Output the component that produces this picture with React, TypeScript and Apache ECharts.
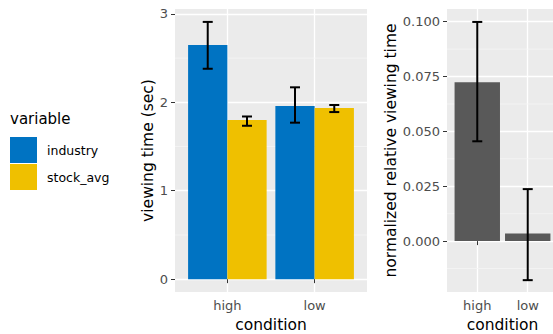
import { useEffect, useRef } from 'react';
import * as echarts from 'echarts';

const conditions = ['high', 'low'];
const seriesNames = ['industry', 'stock_avg'];
const industryMean = [2.65, 1.96];
const industryLower = [2.38, 1.77];
const industryUpper = [2.91, 2.17];
const stockMean = [1.8, 1.935];
const stockLower = [1.735, 1.89];
const stockUpper = [1.84, 1.97];
const normMean = [0.0724, 0.0035];
const normLower = [0.0455, -0.0178];
const normUpper = [0.0999, 0.0237];
const leftTicks = [0, 1, 2, 3];
const leftMinor = [0.5, 1.5, 2.5];
const rightTicks = [0, 0.025, 0.05, 0.075, 0.1];
const rightMinor = [-0.0125, 0.0125, 0.0375, 0.0625, 0.0875];
const xTicks = [1, 2];

const FONT = 'DejaVu Sans';
const BLUE = '#0073C2';
const YELLOW = '#EFC000';
const GREY = '#595959';

function barRender(halfWidth: number, color: string) {
  return (params: any, api: any) => {
    const x = api.value(0);
    const v = api.value(1);
    const p0 = api.coord([x - halfWidth, v]);
    const p1 = api.coord([x + halfWidth, 0]);
    return {
      type: 'rect',
      shape: {
        x: p0[0],
        y: Math.min(p0[1], p1[1]),
        width: p1[0] - p0[0],
        height: Math.abs(p1[1] - p0[1]),
      },
      style: { fill: color },
    };
  };
}

function errRender(params: any, api: any) {
  const x = api.value(0);
  const lo = api.coord([x, api.value(1)]);
  const hi = api.coord([x, api.value(2)]);
  const cap = 5;
  const st = { stroke: '#000', lineWidth: 2 };
  return {
    type: 'group',
    children: [
      { type: 'line', shape: { x1: lo[0], y1: lo[1], x2: hi[0], y2: hi[1] }, style: st },
      { type: 'line', shape: { x1: lo[0] - cap, y1: lo[1], x2: lo[0] + cap, y2: lo[1] }, style: st },
      { type: 'line', shape: { x1: hi[0] - cap, y1: hi[1], x2: hi[0] + cap, y2: hi[1] }, style: st },
    ],
  };
}

function minorRender(params: any, api: any) {
  const cs = params.coordSys;
  const p = api.coord([1, api.value(1)]);
  return {
    type: 'line',
    shape: { x1: cs.x, y1: p[1], x2: cs.x + cs.width, y2: p[1] },
    style: { stroke: '#F5F5F5', lineWidth: 0.8 },
  };
}

export default function App() {
  const ref = useRef<HTMLDivElement>(null);
  useEffect(() => {
    if (!ref.current) return;
    const chart = echarts.init(ref.current, null, { renderer: 'svg' });
    const tickLabel = { color: '#4D4D4D', fontFamily: FONT, fontSize: 13 };
    const axisTick = { show: true, length: 4, lineStyle: { color: '#333333', width: 1 } };
    const splitLine = { show: true, lineStyle: { color: '#FFFFFF', width: 1.3 } };
    const nameStyle = { color: '#000', fontFamily: FONT, fontSize: 15.5 };
    const xAxisBase = (gridIndex: number) => ({
      type: 'value',
      gridIndex,
      min: 0.4,
      max: 2.6,
      axisLine: { show: false },
      axisTick: { ...axisTick, customValues: xTicks },
      axisLabel: {
        ...tickLabel,
        margin: 7,
        customValues: xTicks,
        formatter: (v: number) => conditions[Math.round(v) - 1] ?? '',
      },
      splitLine,
      name: 'condition',
      nameLocation: 'middle',
      nameGap: 24,
      nameTextStyle: nameStyle,
    });
    chart.setOption({
      animation: false,
      backgroundColor: '#FFFFFF',
      grid: [
        { left: 175, top: 9, width: 192, height: 283, show: true, backgroundColor: '#EBEBEB', borderWidth: 0, containLabel: false, outerBoundsMode: 'none' },
        { left: 447, top: 9, width: 111, height: 283, show: true, backgroundColor: '#EBEBEB', borderWidth: 0, containLabel: false, outerBoundsMode: 'none' },
      ],
      legend: {
        data: seriesNames,
        orient: 'vertical',
        left: 10,
        top: 137,
        padding: 0,
        itemWidth: 27,
        itemHeight: 26,
        itemGap: 1,
        icon: 'rect',
        textStyle: { color: '#000', fontFamily: FONT, fontSize: 12.5, padding: [0, 0, 0, 5] },
        selectedMode: false,
      },
      graphic: [
        {
          type: 'text',
          left: 10,
          top: 111,
          style: { text: 'variable', fill: '#000', font: `15px "${FONT}"` },
        },
      ],
      xAxis: [xAxisBase(0), xAxisBase(1)],
      yAxis: [
        {
          type: 'value',
          gridIndex: 0,
          min: -0.1455,
          max: 3.056,
          axisLine: { show: false },
          axisTick: { ...axisTick, customValues: leftTicks },
          axisLabel: { ...tickLabel, margin: 7, customValues: leftTicks, formatter: (v: number) => String(v) },
          splitLine,
          name: 'viewing time (sec)',
          nameLocation: 'middle',
          nameGap: 19,
          nameTextStyle: nameStyle,
        },
        {
          type: 'value',
          gridIndex: 1,
          min: -0.0232,
          max: 0.1058,
          axisLine: { show: false },
          axisTick: { ...axisTick, customValues: rightTicks },
          axisLabel: { ...tickLabel, margin: 7, customValues: rightTicks, formatter: (v: number) => v.toFixed(3) },
          splitLine,
          name: 'normalized relative viewing time',
          nameLocation: 'middle',
          nameGap: 44,
          nameTextStyle: nameStyle,
        },
      ],
      series: [
        {
          type: 'custom', xAxisIndex: 0, yAxisIndex: 0, z: 1, silent: true,
          renderItem: minorRender,
          data: leftMinor.map((v) => [1, v]),
        },
        {
          type: 'custom', xAxisIndex: 1, yAxisIndex: 1, z: 1, silent: true,
          renderItem: minorRender,
          data: rightMinor.map((v) => [1, v]),
        },
        {
          name: 'industry', type: 'custom', xAxisIndex: 0, yAxisIndex: 0, z: 2,
          itemStyle: { color: BLUE },
          renderItem: barRender(0.225, BLUE),
          data: conditions.map((c, i) => [i + 1 - 0.225, industryMean[i]]),
        },
        {
          name: 'stock_avg', type: 'custom', xAxisIndex: 0, yAxisIndex: 0, z: 2,
          itemStyle: { color: YELLOW },
          renderItem: barRender(0.225, YELLOW),
          data: conditions.map((c, i) => [i + 1 + 0.225, stockMean[i]]),
        },
        {
          type: 'custom', xAxisIndex: 0, yAxisIndex: 0, z: 3,
          renderItem: errRender,
          data: conditions.map((c, i) => [i + 1 - 0.225, industryLower[i], industryUpper[i]]),
        },
        {
          type: 'custom', xAxisIndex: 0, yAxisIndex: 0, z: 3,
          renderItem: errRender,
          data: conditions.map((c, i) => [i + 1 + 0.225, stockLower[i], stockUpper[i]]),
        },
        {
          type: 'custom', xAxisIndex: 1, yAxisIndex: 1, z: 2,
          renderItem: barRender(0.45, GREY),
          data: conditions.map((c, i) => [i + 1, normMean[i]]),
        },
        {
          type: 'custom', xAxisIndex: 1, yAxisIndex: 1, z: 3,
          renderItem: errRender,
          data: conditions.map((c, i) => [i + 1, normLower[i], normUpper[i]]),
        },
      ],
    });
    return () => chart.dispose();
  }, []);
  return (
    <div
      ref={ref}
      style={{ position: 'absolute', left: 0, top: 0, width: 553, height: 334 }}
    />
  );
}
